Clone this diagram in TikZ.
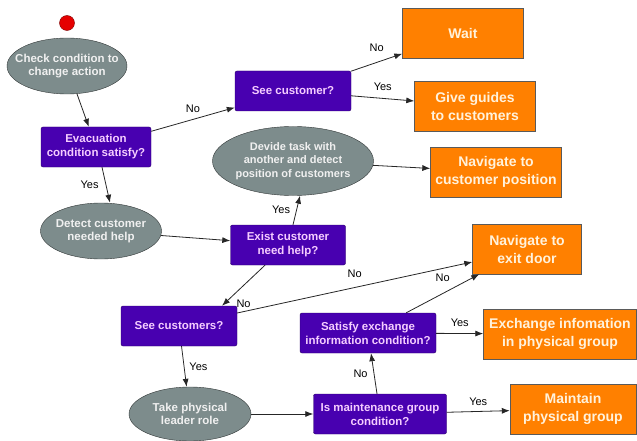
\documentclass[tikz,border=0pt]{standalone}
\usepackage{fontspec}
\setmainfont{Liberation Sans}
\usepackage{tikz}
\usetikzlibrary{shapes.geometric,arrows.meta}

\definecolor{askfill}{RGB}{72,0,176}
\definecolor{askline}{RGB}{40,0,100}
\definecolor{asktext}{RGB}{245,205,255}
\definecolor{actfill}{RGB}{255,128,0}
\definecolor{actline}{RGB}{90,90,90}
\definecolor{acttext}{RGB}{255,242,220}
\definecolor{ovalfill}{RGB}{125,140,140}
\definecolor{ovalline}{RGB}{50,55,55}
\definecolor{ovaltext}{RGB}{240,240,240}

\tikzset{
    ask/.style={rectangle, rounded corners=2pt, draw=askline, fill=askfill, text=asktext,
        font=\bfseries\fontsize{11.5}{14}\selectfont, align=center, minimum height=40pt, inner sep=2pt},
    act/.style={rectangle, draw=actline, fill=actfill, text=acttext,
        font=\bfseries\fontsize{14}{18}\selectfont, align=center, minimum height=50pt, inner sep=2pt},
    oval/.style={ellipse, draw=ovalline, fill=ovalfill, text=ovaltext,
        font=\bfseries\fontsize{11.5}{13.5}\selectfont, align=center, inner xsep=-16pt, inner ysep=0pt},
    lbl/.style={font=\fontsize{11}{13}\selectfont, inner sep=2pt},
    flow/.style={draw=black!85, line width=0.8pt, -{Latex[length=8pt,width=6pt]}}
}

\begin{document}
\begin{tikzpicture}[x=1pt, y=-1pt]
            \useasboundingbox (0,0) rectangle (637,441);

            \node[circle, draw=red!50!black, fill=red!90!black, minimum size=15pt, inner sep=0pt] (start) at (67,23) {};
            \node[oval, minimum width=120pt, minimum height=56pt] (check) at (67,66) {Check condition to\\change action};
            \node[ask, minimum width=110pt] (evac) at (96,147) {Evacuation\\condition satisfy?};
            \node[oval, minimum width=121pt, minimum height=56pt] (detect) at (101,231) {Detect customer\\needed help};
            \node[ask, minimum width=116pt] (seecust) at (293,91) {See customer?};
            \node[act, minimum width=121pt] (wait) at (463,33) {Wait};
            \node[act, minimum width=121pt] (guide) at (475,106) {Give guides\\to customers};
            \node[oval, minimum width=161pt, minimum height=69pt, font=\bfseries\fontsize{11}{13.5}\selectfont] (divide) at (293,161) {Devide task with\\another and detect\\position of customers};
            \node[act, minimum width=131pt] (navcust) at (496,172) {Navigate to\\customer position};
            \node[ask, minimum width=115pt] (exist) at (288,245) {Exist customer\\need help?};
            \node[ask, minimum width=116pt] (seecusts) at (179,326) {See customers?};
            \node[act, minimum width=109pt] (exitdoor) at (527,249) {Navigate to\\exit door};
            \node[ask, minimum width=136pt] (satisfy) at (368,333) {Satisfy exchange\\information condition?};
            \node[act, minimum width=153pt] (exchange) at (560,334) {Exchange infomation\\in physical group};
            \node[ask, minimum width=133pt] (maint) at (380,414) {Is maintenance group\\condition?};
            \node[act, minimum width=126pt] (keep) at (573,409) {Maintain\\physical group};
            \node[oval, minimum width=122pt, minimum height=54pt] (leader) at (190,414) {Take physical\\leader role};

            \draw[flow] (check) -- (evac);
            \draw[flow] (evac) -- (seecust) node[lbl, midway, above=4pt] {No};
            \draw[flow] (seecust) -- (wait) node[lbl, midway, above=8pt] {No};
            \draw[flow] (seecust) -- (guide) node[lbl, midway, above=5pt] {Yes};
            \draw[flow] ([xshift=6pt]evac.south) -- ([xshift=9pt]detect.north) node[lbl, midway, left=5pt] {Yes};
            \draw[flow] (detect) -- (exist);
            \draw[flow] ([xshift=5pt]exist.north) -- ([xshift=7pt]divide.south) node[lbl, midway, left=4pt] {Yes};
            \draw[flow] (divide) -- (navcust);
            \draw[flow] ([xshift=-23pt]exist.south) -- ([xshift=43pt]seecusts.north) node[lbl, pos=0.95, right=10pt] {No};
            \draw[flow] ([yshift=13pt]seecusts.east) -- ([yshift=-13pt]exitdoor.west) node[lbl, midway, above=7pt] {No};
            \draw[flow] (seecusts) -- (leader) node[lbl, midway, right=3pt] {Yes};
            \draw[flow] (leader) -- (maint);
            \draw[flow] (maint) -- (satisfy) node[lbl, midway, left=4pt] {No};
            \draw[flow] (maint) -- (keep) node[lbl, midway, above=3pt] {Yes};
            \draw[flow] (satisfy) -- (exitdoor) node[lbl, midway, above=9pt] {No};
            \draw[flow] (satisfy) -- (exchange) node[lbl, midway, above=4pt] {Yes};
\end{tikzpicture}
\end{document}
